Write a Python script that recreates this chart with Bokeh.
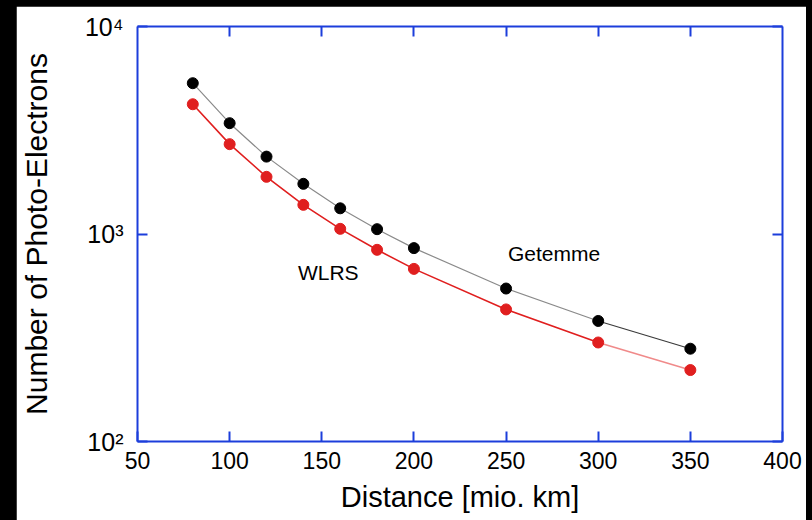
from bokeh.plotting import figure
from bokeh.models import LinearAxis, LogAxis, FixedTicker, Label, CustomLabelingPolicy
from bokeh.embed import file_html
from bokeh.resources import INLINE

# ---- data ----
distance = [80, 100, 120, 140, 160, 180, 200, 250, 300, 350]
getemme = [5330, 3420, 2360, 1745, 1330, 1055, 855, 546, 381, 280]
wlrs = [4220, 2710, 1886, 1382, 1059, 839, 679, 433, 300, 221]

x_ticks = [50, 100, 150, 200, 250, 300, 350, 400]
y_ticks = [100, 1000, 10000]
y_tick_labels = {100: "10\u00b2", 1000: "10\u00b3", 10000: "10\u2074"}

series_labels = ["Getemme", "WLRS"]
label_pos = [(276, 805), (153.5, 652)]

FONT = "Liberation Sans"
BLUE = "#1c3edb"
RED = "#e01f1f"

p = figure(width=790, height=514, x_range=(50, 400), y_range=(100, 10000),
           y_axis_type="log", output_backend="svg", toolbar_location=None,
           min_border_left=120, min_border_right=24, min_border_top=20,
           min_border_bottom=79, background_fill_color="white",
           border_fill_color="white", outline_line_color=None)
p.grid.visible = False


def style_axis(ax, ticks):
    ax.ticker = FixedTicker(ticks=ticks)
    ax.axis_line_color = BLUE
    ax.axis_line_width = 2
    ax.major_tick_line_color = BLUE
    ax.major_tick_line_width = 2
    ax.major_tick_in = 10
    ax.major_tick_out = 0
    ax.minor_tick_line_color = None
    ax.major_label_text_font = FONT
    ax.major_label_text_color = "black"
    ax.axis_label_text_font = FONT
    ax.axis_label_text_font_style = "normal"
    ax.axis_label_text_color = "black"


hide_labels = CustomLabelingPolicy(code="""
    for (const i of Array.from(indices)) { indices.unset(i) }
    return indices
""")

xa = p.xaxis[0]
style_axis(xa, x_ticks)
xa.major_label_text_font_size = "23px"
xa.major_label_standoff = 10
xa.axis_label = "Distance [mio. km]"
xa.axis_label_text_font_size = "29px"
xa.axis_label_standoff = 9

ya = p.yaxis[0]
style_axis(ya, y_ticks)
ya.major_label_overrides = y_tick_labels
ya.major_label_text_font_size = "25px"
ya.major_label_standoff = 14
ya.axis_label = "Number of Photo-Electrons"
ya.axis_label_text_font_size = "30px"
ya.axis_label_standoff = 29

top = LinearAxis()
style_axis(top, x_ticks[1:-1])
top.major_label_policy = hide_labels
top.major_label_standoff = 0
p.add_layout(top, "above")

right = LogAxis()
style_axis(right, y_ticks)
right.major_label_policy = hide_labels
right.major_label_standoff = 0
p.add_layout(right, "right")

# lines
p.line(distance[:9], getemme[:9], line_color="#8a8a8a", line_width=1.2)
p.line(distance[8:], getemme[8:], line_color="#3a3a3a", line_width=1.2)
p.line(distance[:9], wlrs[:9], line_color=RED, line_width=1.6)
p.line(distance[8:], wlrs[8:], line_color="#f08a8a", line_width=1.6)

# markers
p.scatter(distance, getemme, size=11, fill_color="black", line_color="black")
p.scatter(distance, wlrs, size=11, fill_color=RED, line_color=RED)

for txt, (lx, ly) in zip(series_labels, label_pos):
    p.add_layout(Label(x=lx, y=ly, text=txt, text_font=FONT,
                       text_font_size="21px", text_color="black",
                       text_align="center", text_baseline="middle"))

template = """{% block preamble %}<style>
html, body { background: #000 !important; margin: 0 !important; overflow: hidden !important; }
body { padding: 6px 6px 0 16px !important; box-sizing: border-box; }
</style>{% endblock %}"""

open("out.html", "w").write(file_html(p, INLINE, template=template))
